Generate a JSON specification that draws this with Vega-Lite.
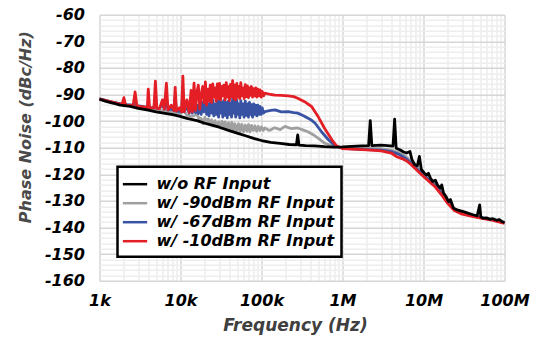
{
  "$schema": "https://vega.github.io/schema/vega-lite/v6.json",
  "width": 405,
  "height": 266,
  "autosize": {"type": "none"},
  "padding": {"left": 99.5, "top": 14.7, "right": 33.5, "bottom": 58.3},
  "background": "white",
  "config": {
    "view": {"stroke": null},
    "font": "DejaVu Sans",
    "legend": {
      "labelFont": "DejaVu Sans",
      "labelFontSize": 16,
      "labelFontWeight": "bold",
      "labelFontStyle": "italic",
      "labelColor": "black",
      "labelLimit": 400,
      "labelOffset": 11,
      "padding": 7,
      "rowPadding": 0,
      "symbolType": "M-1.35,0H1.35",
      "symbolSize": 324,
      "symbolStrokeWidth": 2.5,
      "fillColor": "white",
      "strokeColor": "black",
      "strokeWidth": 2.5
    }
  },
  "datasets": {
    "gray": [
      {"f":1000,"v":-91.5},{"f":1500,"v":-93},{"f":2000,"v":-93.8},{"f":2400,"v":-94},{"f":3000,"v":-94.6},{"f":3860,"v":-95.2},{"f":5000,"v":-95.8},{"f":6200,"v":-96.2},{"f":8000,"v":-96.8},{"f":10000,"v":-97.2},{"f":11000,"v":-96},{"f":12000,"v":-97.8},{"f":14000,"v":-98.2},{"f":16000,"v":-97.5},{"f":17000,"v":-99.2},
      {"f":18000,"v":-99},{"f":19000,"v":-101},{"f":20000,"v":-98.6},{"f":21000,"v":-100.5},{"f":22000,"v":-99.2},{"f":23000,"v":-101},{"f":24200,"v":-99.5},{"f":25500,"v":-101.8},{"f":26700,"v":-99.8},{"f":28000,"v":-102},{"f":29500,"v":-100.2},{"f":31000,"v":-102.3},{"f":32500,"v":-100},{"f":34000,"v":-102.8},{"f":35500,"v":-100.3},{"f":37000,"v":-103},{"f":39000,"v":-100.6},{"f":41000,"v":-103.2},{"f":43000,"v":-100.5},{"f":45000,"v":-103.5},{"f":47000,"v":-101},{"f":49500,"v":-103.8},{"f":52000,"v":-101},{"f":54500,"v":-104},{"f":57000,"v":-101.2},{"f":60000,"v":-104},{"f":63000,"v":-101.5},{"f":66000,"v":-103.8},{"f":69000,"v":-101.3},{"f":72000,"v":-104},{"f":75500,"v":-101.6},{"f":79000,"v":-103.5},{"f":83000,"v":-101.8},{"f":87000,"v":-103.8},{"f":91000,"v":-102},{"f":95500,"v":-103.5},{"f":100000,"v":-102.2},{"f":105000,"v":-103.5},{"f":110000,"v":-102.6},
      {"f":125000,"v":-103.5},{"f":145000,"v":-102.5},{"f":170000,"v":-103.2},{"f":195000,"v":-102},{"f":230000,"v":-102.8},{"f":280000,"v":-102.6},{"f":330000,"v":-103.4},{"f":375000,"v":-104},{"f":440000,"v":-105.2},{"f":500000,"v":-106.4},{"f":600000,"v":-108.3},{"f":740000,"v":-109.3},{"f":900000,"v":-109.8},{"f":1000000,"v":-110},{"f":1500000,"v":-110.2},{"f":2000000,"v":-110.3},{"f":3000000,"v":-110.4},{"f":4000000,"v":-110.9},{"f":5000000,"v":-111.8},{"f":6000000,"v":-113.2},{"f":7000000,"v":-115},{"f":8000000,"v":-116.8},{"f":9000000,"v":-118.3},{"f":10000000,"v":-119.6},{"f":12000000,"v":-121.8},{"f":14000000,"v":-123.6},{"f":17000000,"v":-127},{"f":20000000,"v":-130},{"f":24000000,"v":-133},{"f":30000000,"v":-134.5},{"f":40000000,"v":-135.5},{"f":55000000,"v":-136.5},{"f":70000000,"v":-137},{"f":100000000,"v":-138.3}
    ],
    "blue": [
      {"f":1000,"v":-91.6},{"f":1500,"v":-93},{"f":1900,"v":-93.6},{"f":2000,"v":-92.5},{"f":2100,"v":-93.8},{"f":2600,"v":-94},{"f":2750,"v":-92.5},{"f":2900,"v":-94.2},{"f":3500,"v":-94.6},{"f":3900,"v":-94.8},{"f":4000,"v":-93},{"f":4150,"v":-95},{"f":4700,"v":-95},{"f":4900,"v":-90.5},{"f":5100,"v":-95.2},{"f":5500,"v":-95.3},{"f":6000,"v":-93.5},{"f":6300,"v":-95.5},{"f":6700,"v":-92},{"f":7000,"v":-95.8},{"f":7700,"v":-95.5},{"f":8300,"v":-96},{"f":8600,"v":-90.5},{"f":8900,"v":-96.2},{"f":9700,"v":-96.3},{"f":10300,"v":-96.5},{"f":10700,"v":-88.8},{"f":11100,"v":-96.5},{"f":12000,"v":-94.5},{"f":12800,"v":-97},{"f":13500,"v":-92.5},{"f":14000,"v":-97},{"f":14700,"v":-91.5},{"f":15300,"v":-96.8},{"f":16000,"v":-94},{"f":16600,"v":-97.2},{"f":17300,"v":-92.5},
      {"f":18000,"v":-97.5},{"f":18800,"v":-93},{"f":19500,"v":-96.5},{"f":20300,"v":-91.3},{"f":21000,"v":-97.5},{"f":21800,"v":-93.5},{"f":22500,"v":-98},{"f":23300,"v":-92.5},{"f":24200,"v":-97},{"f":25000,"v":-92},{"f":25800,"v":-98},{"f":26700,"v":-93.5},{"f":27500,"v":-97.5},{"f":28500,"v":-92.5},{"f":29500,"v":-98.5},{"f":30300,"v":-92},{"f":31300,"v":-97},{"f":32300,"v":-93},{"f":33300,"v":-98.5},{"f":34300,"v":-92.2},{"f":35500,"v":-97.8},{"f":36700,"v":-93},{"f":37800,"v":-98.8},{"f":39000,"v":-92.5},{"f":40200,"v":-97.5},{"f":41400,"v":-93.2},{"f":42700,"v":-98.5},{"f":44000,"v":-91.5},{"f":45300,"v":-97},{"f":46700,"v":-92.5},{"f":48000,"v":-98.5},{"f":49500,"v":-92},{"f":51000,"v":-97.5},{"f":52500,"v":-93.5},{"f":54000,"v":-98.8},{"f":55500,"v":-92.3},{"f":57000,"v":-97.5},{"f":59000,"v":-93.5},{"f":61000,"v":-98.5},{"f":63000,"v":-92.5},{"f":65000,"v":-97.8},{"f":67000,"v":-93.5},{"f":69000,"v":-98.5},{"f":71000,"v":-93},{"f":73000,"v":-97.5},{"f":75000,"v":-93.8},{"f":77500,"v":-98.5},{"f":80000,"v":-93.5},{"f":82500,"v":-97.5},{"f":85000,"v":-94},{"f":87500,"v":-98},{"f":90000,"v":-94},{"f":93000,"v":-97.5},{"f":96000,"v":-94.5},{"f":99000,"v":-97.5},{"f":102000,"v":-95},{"f":106000,"v":-97},{"f":110000,"v":-96.4},
      {"f":130000,"v":-96},{"f":147000,"v":-95.8},{"f":175000,"v":-96.5},{"f":213000,"v":-96.4},{"f":250000,"v":-96.8},{"f":280000,"v":-97},{"f":330000,"v":-98},{"f":375000,"v":-98.9},{"f":420000,"v":-99.8},{"f":460000,"v":-100.8},{"f":550000,"v":-104},{"f":670000,"v":-107},{"f":810000,"v":-109.3},{"f":1000000,"v":-110.2},{"f":1500000,"v":-110.5},{"f":2000000,"v":-110.7},{"f":3000000,"v":-110.9},{"f":4000000,"v":-111.5},{"f":5000000,"v":-112.5},{"f":6000000,"v":-114},{"f":7000000,"v":-115.8},{"f":8000000,"v":-117.5},{"f":9000000,"v":-119},{"f":10000000,"v":-120.3},{"f":12000000,"v":-122.5},{"f":14000000,"v":-124.3},{"f":17000000,"v":-127.5},{"f":20000000,"v":-130.5},{"f":24000000,"v":-133.3},{"f":30000000,"v":-134.7},{"f":40000000,"v":-135.6},{"f":55000000,"v":-136.5},{"f":70000000,"v":-137},{"f":100000000,"v":-138.3}
    ],
    "red": [
      {"f":1000,"v":-91.7},{"f":1400,"v":-92.8},{"f":1900,"v":-93.8},{"f":2000,"v":-91.2},{"f":2100,"v":-94},{"f":2600,"v":-94.2},{"f":2750,"v":-89},{"f":2900,"v":-94.4},{"f":3500,"v":-94.7},{"f":3900,"v":-94.9},{"f":4000,"v":-88},{"f":4150,"v":-95},{"f":4700,"v":-95},{"f":4900,"v":-85},{"f":5100,"v":-95.2},{"f":5500,"v":-95.3},{"f":6000,"v":-92},{"f":6300,"v":-95.5},{"f":6700,"v":-85.7},{"f":7000,"v":-95.8},{"f":7700,"v":-94},{"f":8300,"v":-96},{"f":8600,"v":-87.3},{"f":8900,"v":-96.2},{"f":9700,"v":-95},{"f":10300,"v":-96.5},{"f":10700,"v":-83.1},{"f":11100,"v":-96.5},{"f":12000,"v":-92},{"f":12800,"v":-96.8},{"f":13500,"v":-88.5},{"f":14000,"v":-96.5},{"f":14700,"v":-85.7},{"f":15300,"v":-96},{"f":16000,"v":-89},{"f":16600,"v":-86.5},{"f":17300,"v":-95.5},
      {"f":18000,"v":-90},{"f":18800,"v":-87},{"f":19500,"v":-93},{"f":20300,"v":-85.3},{"f":21000,"v":-94},{"f":21800,"v":-88},{"f":22500,"v":-92.5},{"f":23300,"v":-86.5},{"f":24200,"v":-93},{"f":25000,"v":-86},{"f":25800,"v":-91},{"f":26700,"v":-87.5},{"f":27500,"v":-92.5},{"f":28500,"v":-86},{"f":29500,"v":-91.5},{"f":30300,"v":-85.8},{"f":31300,"v":-92},{"f":32300,"v":-87},{"f":33300,"v":-90.5},{"f":34300,"v":-86.5},{"f":35500,"v":-92},{"f":36700,"v":-85.5},{"f":37800,"v":-91},{"f":39000,"v":-87},{"f":40200,"v":-92.3},{"f":41400,"v":-86.2},{"f":42700,"v":-90.8},{"f":44000,"v":-84.8},{"f":45300,"v":-91.5},{"f":46700,"v":-86.5},{"f":48000,"v":-92},{"f":49500,"v":-85.8},{"f":51000,"v":-91},{"f":52500,"v":-87},{"f":54000,"v":-91.5},{"f":55500,"v":-85.5},{"f":57000,"v":-90.5},{"f":59000,"v":-87.5},{"f":61000,"v":-91.5},{"f":63000,"v":-86.3},{"f":65000,"v":-90.8},{"f":67000,"v":-86.8},{"f":69000,"v":-91.2},{"f":71000,"v":-87.5},{"f":73000,"v":-90.3},{"f":75000,"v":-87},{"f":77500,"v":-91},{"f":80000,"v":-87.8},{"f":82500,"v":-90.5},{"f":85000,"v":-87.5},{"f":87500,"v":-91},{"f":90000,"v":-88},{"f":93000,"v":-90.5},{"f":96000,"v":-88.3},{"f":99000,"v":-91},{"f":102000,"v":-88.8},{"f":106000,"v":-90.5},{"f":110000,"v":-89.5},
      {"f":130000,"v":-90},{"f":147000,"v":-90.2},{"f":175000,"v":-90.3},{"f":213000,"v":-90.5},{"f":250000,"v":-90.8},{"f":280000,"v":-91.4},{"f":340000,"v":-92.7},{"f":415000,"v":-94.5},{"f":500000,"v":-98.3},{"f":600000,"v":-102.7},{"f":740000,"v":-107},{"f":840000,"v":-109.3},{"f":1000000,"v":-110.3},{"f":1500000,"v":-110.6},{"f":2000000,"v":-110.8},{"f":3000000,"v":-111.2},{"f":4000000,"v":-112},{"f":4600000,"v":-113.3},{"f":5500000,"v":-114.2},{"f":6200000,"v":-115},{"f":7000000,"v":-116.3},{"f":8000000,"v":-118},{"f":9000000,"v":-119.5},{"f":10000000,"v":-120.8},{"f":12000000,"v":-123},{"f":14000000,"v":-124.8},{"f":17000000,"v":-128},{"f":20000000,"v":-131},{"f":24000000,"v":-133.6},{"f":30000000,"v":-135},{"f":40000000,"v":-135.8},{"f":55000000,"v":-136.7},{"f":70000000,"v":-137.2},{"f":100000000,"v":-138.5}
    ],
    "black": [
      {"f":1000,"v":-91.8},{"f":1200,"v":-92.6},{"f":1500,"v":-93.3},{"f":1800,"v":-94},{"f":2400,"v":-94.5},{"f":3000,"v":-95.2},{"f":3860,"v":-95.8},{"f":5000,"v":-96.5},{"f":6200,"v":-97},{"f":8000,"v":-97.6},{"f":9900,"v":-98.2},{"f":12000,"v":-99},{"f":16000,"v":-99.8},{"f":20000,"v":-100.8},{"f":25000,"v":-101.6},{"f":30000,"v":-102.3},{"f":40000,"v":-103.6},{"f":50000,"v":-104.5},{"f":65000,"v":-105.6},{"f":80000,"v":-106.5},{"f":100000,"v":-107.3},{"f":130000,"v":-108},{"f":170000,"v":-108.4},{"f":220000,"v":-108.8},{"f":270000,"v":-108.9},{"f":280000,"v":-105.2},{"f":290000,"v":-109},{"f":350000,"v":-109.2},{"f":450000,"v":-109.3},{"f":600000,"v":-109.6},{"f":800000,"v":-109.8},{"f":1000000,"v":-109.7},{"f":1300000,"v":-109.5},{"f":1700000,"v":-109.3},{"f":2100000,"v":-109.2},{"f":2200000,"v":-99.8},{"f":2300000,"v":-109.2},{"f":3000000,"v":-109},{"f":3600000,"v":-109.2},{"f":4200000,"v":-109.4},{"f":4400000,"v":-99.3},{"f":4600000,"v":-110.2},{"f":5100000,"v":-110.8},{"f":5700000,"v":-111.6},{"f":6200000,"v":-112},{"f":6800000,"v":-111.4},{"f":7200000,"v":-114.5},{"f":7800000,"v":-116.4},{"f":8400000,"v":-116.8},{"f":8900000,"v":-113.3},{"f":9400000,"v":-118.2},{"f":10200000,"v":-119.5},{"f":10900000,"v":-120.2},{"f":11500000,"v":-119.6},{"f":12200000,"v":-121.5},{"f":13000000,"v":-122.7},{"f":14000000,"v":-122.2},{"f":15000000,"v":-124.2},{"f":16300000,"v":-125.2},{"f":16800000,"v":-124},{"f":17700000,"v":-127.1},{"f":19000000,"v":-128.4},{"f":20300000,"v":-130.2},{"f":21500000,"v":-129.5},{"f":23400000,"v":-132.7},{"f":26000000,"v":-133.4},{"f":31000000,"v":-134},{"f":36000000,"v":-134.7},{"f":41000000,"v":-135.2},{"f":46000000,"v":-135.6},{"f":49400000,"v":-131.5},{"f":51000000,"v":-136},{"f":54000000,"v":-136.5},{"f":60000000,"v":-136.4},{"f":66000000,"v":-136.9},{"f":72000000,"v":-136.7},{"f":80000000,"v":-137.3},{"f":86000000,"v":-137},{"f":92000000,"v":-137.7},{"f":100000000,"v":-138.1}
    ]
  },
  "encoding": {
    "x": {
      "field": "f",
      "type": "quantitative",
      "title": "Frequency (Hz)",
      "scale": {"type": "log", "domain": [1000, 100000000], "nice": false},
      "axis": {
        "values": [1000,2000,3000,4000,5000,6000,7000,8000,9000,10000,20000,30000,40000,50000,60000,70000,80000,90000,100000,200000,300000,400000,500000,600000,700000,800000,900000,1000000,2000000,3000000,4000000,5000000,6000000,7000000,8000000,9000000,10000000,20000000,30000000,40000000,50000000,60000000,70000000,80000000,90000000,100000000],
        "labelExpr": "datum.value==1000?'1k':datum.value==10000?'10k':datum.value==100000?'100k':datum.value==1000000?'1M':datum.value==10000000?'10M':datum.value==100000000?'100M':''",
        "labelOverlap": false,
        "labelBound": false,
        "labelFlush": false,
        "grid": true,
        "gridColor": {"condition": {"test": "indexof([1000,10000,100000,1000000,10000000,100000000], datum.value) >= 0", "value": "#d6d6d6"}, "value": "#ececec"},
        "gridWidth": 1.5,
        "ticks": false,
        "domain": false,
        "labelFont": "DejaVu Sans",
        "labelFontSize": 16,
        "labelFontWeight": "bold",
        "labelFontStyle": "italic",
        "labelColor": "black",
        "labelPadding": 12,
        "titleFont": "DejaVu Sans",
        "titleFontSize": 17,
        "titleFontWeight": "bold",
        "titleFontStyle": "italic",
        "titleColor": "#404040",
        "titlePadding": 9,
        "titleX": 195.5
      }
    },
    "y": {
      "field": "v",
      "type": "quantitative",
      "title": "Phase Noise (dBc/Hz)",
      "scale": {"domain": [-160, -60], "nice": false, "zero": false},
      "axis": {
        "values": [-160,-158,-156,-154,-152,-150,-148,-146,-144,-142,-140,-138,-136,-134,-132,-130,-128,-126,-124,-122,-120,-118,-116,-114,-112,-110,-108,-106,-104,-102,-100,-98,-96,-94,-92,-90,-88,-86,-84,-82,-80,-78,-76,-74,-72,-70,-68,-66,-64,-62,-60],
        "labelExpr": "datum.value % 10 == 0 ? toString(datum.value) : ''",
        "labelOverlap": false,
        "labelBound": false,
        "labelFlush": false,
        "grid": true,
        "gridColor": {"condition": {"test": "datum.value % 10 == 0", "value": "#d6d6d6"}, "value": "#eeeeee"},
        "gridWidth": 1.5,
        "ticks": false,
        "domain": false,
        "labelFont": "DejaVu Sans",
        "labelFontSize": 16,
        "labelFontWeight": "bold",
        "labelFontStyle": "italic",
        "labelColor": "black",
        "labelPadding": 15,
        "titleFont": "DejaVu Sans",
        "titleFontSize": 16,
        "titleFontWeight": "bold",
        "titleFontStyle": "italic",
        "titleColor": "#4a4a4a",
        "titlePadding": 11,
        "titleY": 112
      }
    }
  },
  "layer": [
    {
      "data": {"name": "gray"},
      "mark": {"type": "line", "strokeWidth": 2.8, "strokeJoin": "round"},
      "encoding": {
        "color": {"datum": "w/ -90dBm RF Input", "type": "nominal",
          "scale": {"domain": ["w/o RF Input", "w/ -90dBm RF Input", "w/ -67dBm RF Input", "w/ -10dBm RF Input"], "range": ["#000000", "#a0a0a0", "#3953a4", "#e31e25"]},
          "legend": {"orient": "none", "legendX": 18, "legendY": 152, "title": null, "encode": {"legend": {"update": {"strokeWidth": {"value": 2.5}, "stroke": {"value": "black"}}}}}}
      }
    },
    {
      "data": {"name": "blue"},
      "mark": {"type": "line", "strokeWidth": 2.8, "strokeJoin": "round"},
      "encoding": {
        "color": {"datum": "w/ -67dBm RF Input", "type": "nominal",
          "scale": {"domain": ["w/o RF Input", "w/ -90dBm RF Input", "w/ -67dBm RF Input", "w/ -10dBm RF Input"], "range": ["#000000", "#a0a0a0", "#3953a4", "#e31e25"]},
          "legend": {"orient": "none", "legendX": 18, "legendY": 152, "title": null, "encode": {"legend": {"update": {"strokeWidth": {"value": 2.5}, "stroke": {"value": "black"}}}}}}
      }
    },
    {
      "data": {"name": "red"},
      "mark": {"type": "line", "strokeWidth": 2.8, "strokeJoin": "round"},
      "encoding": {
        "color": {"datum": "w/ -10dBm RF Input", "type": "nominal",
          "scale": {"domain": ["w/o RF Input", "w/ -90dBm RF Input", "w/ -67dBm RF Input", "w/ -10dBm RF Input"], "range": ["#000000", "#a0a0a0", "#3953a4", "#e31e25"]},
          "legend": {"orient": "none", "legendX": 18, "legendY": 152, "title": null, "encode": {"legend": {"update": {"strokeWidth": {"value": 2.5}, "stroke": {"value": "black"}}}}}}
      }
    },
    {
      "data": {"name": "black"},
      "mark": {"type": "line", "strokeWidth": 2.8, "strokeJoin": "round"},
      "encoding": {
        "color": {"datum": "w/o RF Input", "type": "nominal",
          "scale": {"domain": ["w/o RF Input", "w/ -90dBm RF Input", "w/ -67dBm RF Input", "w/ -10dBm RF Input"], "range": ["#000000", "#a0a0a0", "#3953a4", "#e31e25"]},
          "legend": {"orient": "none", "legendX": 18, "legendY": 152, "title": null, "encode": {"legend": {"update": {"strokeWidth": {"value": 2.5}, "stroke": {"value": "black"}}}}}}
      }
    },
    {
      "data": {"values": [{}]},
      "mark": {"type": "rect", "fill": "transparent", "stroke": "black", "strokeWidth": 4},
      "encoding": {
        "x": {"datum": 1000, "type": "quantitative"},
        "x2": {"datum": 100000000},
        "y": {"datum": -160, "type": "quantitative"},
        "y2": {"datum": -60}
      }
    }
  ]
}
